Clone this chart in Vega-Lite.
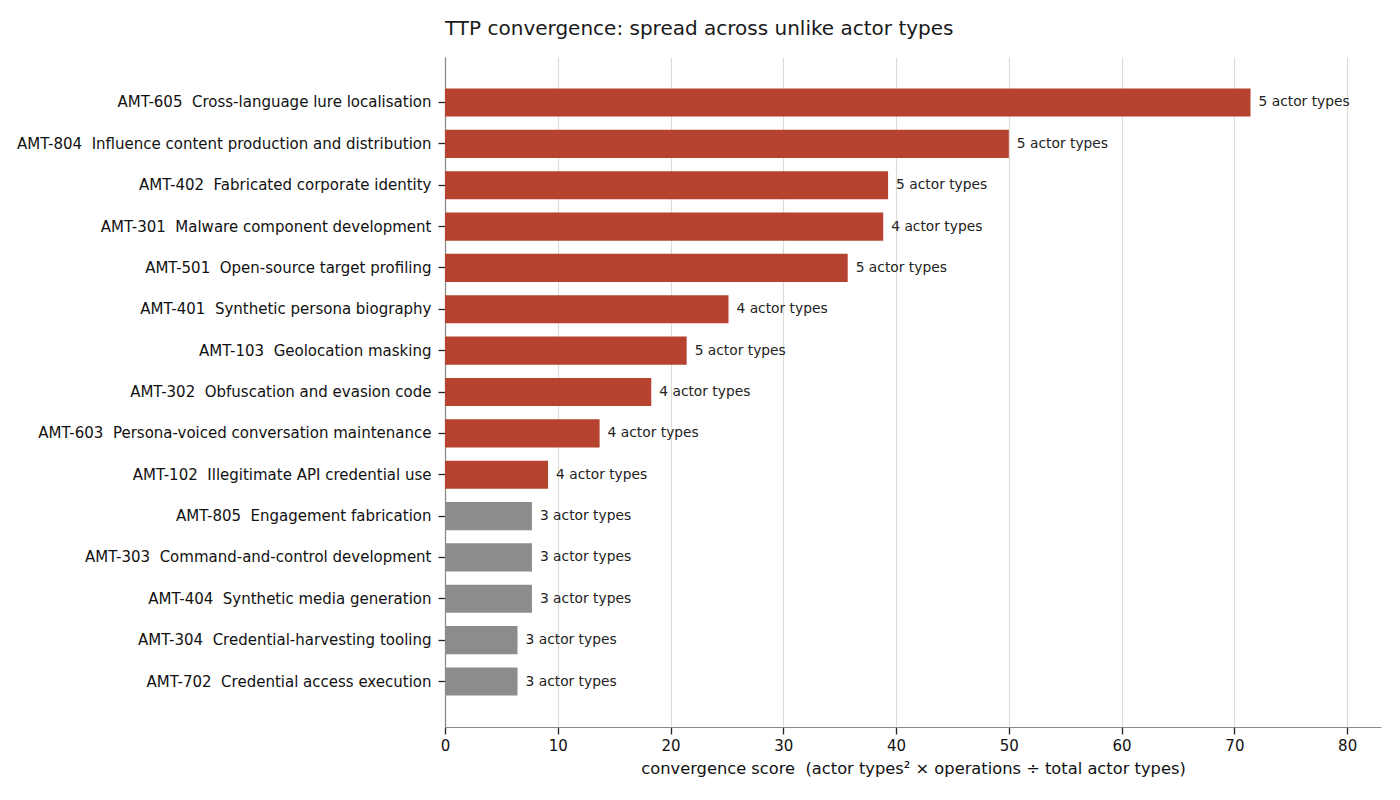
{
  "$schema": "https://vega.github.io/schema/vega-lite/v6.json",
  "autosize": "none",
  "width": 936,
  "height": 670,
  "padding": {"left": 445, "top": 57, "right": 19, "bottom": 73},
  "background": "white",
  "config": {
    "font": "DejaVu Sans",
    "view": {"stroke": null}
  },
  "title": {
    "text": "TTP convergence: spread across unlike actor types",
    "anchor": "start",
    "frame": "group",
    "fontSize": 20,
    "fontWeight": "normal",
    "color": "#1a1a1a",
    "offset": 18
  },
  "data": {
    "values": [
      {"ttp": "AMT-605\u00a0 Cross-language lure localisation", "score": 71.43, "actor_types": 5},
      {"ttp": "AMT-804\u00a0 Influence content production and distribution", "score": 50.0, "actor_types": 5},
      {"ttp": "AMT-402\u00a0 Fabricated corporate identity", "score": 39.29, "actor_types": 5},
      {"ttp": "AMT-301\u00a0 Malware component development", "score": 38.86, "actor_types": 4},
      {"ttp": "AMT-501\u00a0 Open-source target profiling", "score": 35.71, "actor_types": 5},
      {"ttp": "AMT-401\u00a0 Synthetic persona biography", "score": 25.14, "actor_types": 4},
      {"ttp": "AMT-103\u00a0 Geolocation masking", "score": 21.43, "actor_types": 5},
      {"ttp": "AMT-302\u00a0 Obfuscation and evasion code", "score": 18.29, "actor_types": 4},
      {"ttp": "AMT-603\u00a0 Persona-voiced conversation maintenance", "score": 13.71, "actor_types": 4},
      {"ttp": "AMT-102\u00a0 Illegitimate API credential use", "score": 9.14, "actor_types": 4},
      {"ttp": "AMT-805\u00a0 Engagement fabrication", "score": 7.71, "actor_types": 3},
      {"ttp": "AMT-303\u00a0 Command-and-control development", "score": 7.71, "actor_types": 3},
      {"ttp": "AMT-404\u00a0 Synthetic media generation", "score": 7.71, "actor_types": 3},
      {"ttp": "AMT-304\u00a0 Credential-harvesting tooling", "score": 6.43, "actor_types": 3},
      {"ttp": "AMT-702\u00a0 Credential access execution", "score": 6.43, "actor_types": 3}
    ]
  },
  "transform": [
    {"calculate": "datum.actor_types + ' actor types'", "as": "label"}
  ],
  "encoding": {
    "y": {
      "field": "ttp",
      "type": "nominal",
      "sort": null,
      "title": null,
      "scale": {"paddingInner": 0.32, "paddingOuter": 0.76},
      "axis": {
        "labelFontSize": 15,
        "labelColor": "#111111",
        "labelPadding": 7,
        "labelLimit": 500,
        "ticks": true,
        "tickSize": 7,
        "tickWidth": 1.3,
        "tickColor": "#222222",
        "domainColor": "#888888",
        "domainWidth": 1.2,
        "grid": false
      }
    },
    "x": {
      "field": "score",
      "type": "quantitative",
      "scale": {"domain": [0, 83], "nice": false},
      "title": "convergence score\u00a0 (actor types² × operations ÷ total actor types)",
      "axis": {
        "values": [0, 10, 20, 30, 40, 50, 60, 70, 80],
        "grid": true,
        "gridColor": "#dcdbd5",
        "gridWidth": 1.2,
        "labelFontSize": 15,
        "labelColor": "#111111",
        "labelPadding": 4,
        "labelFlush": false,
        "ticks": true,
        "tickSize": 7,
        "tickWidth": 1.3,
        "tickColor": "#222222",
        "domainColor": "#888888",
        "domainWidth": 1.2,
        "titleFontSize": 16.3,
        "titleFontWeight": "normal",
        "titleColor": "#111111",
        "titlePadding": 7
      }
    }
  },
  "layer": [
    {
      "mark": {"type": "bar"},
      "encoding": {
        "color": {
          "condition": {"test": "datum.actor_types >= 4", "value": "#b5432f"},
          "value": "#8c8c8c"
        }
      }
    },
    {
      "mark": {"type": "text", "align": "left", "baseline": "middle", "dx": 8, "fontSize": 13.8, "color": "#222222"},
      "encoding": {
        "text": {"field": "label", "type": "nominal"}
      }
    }
  ]
}
